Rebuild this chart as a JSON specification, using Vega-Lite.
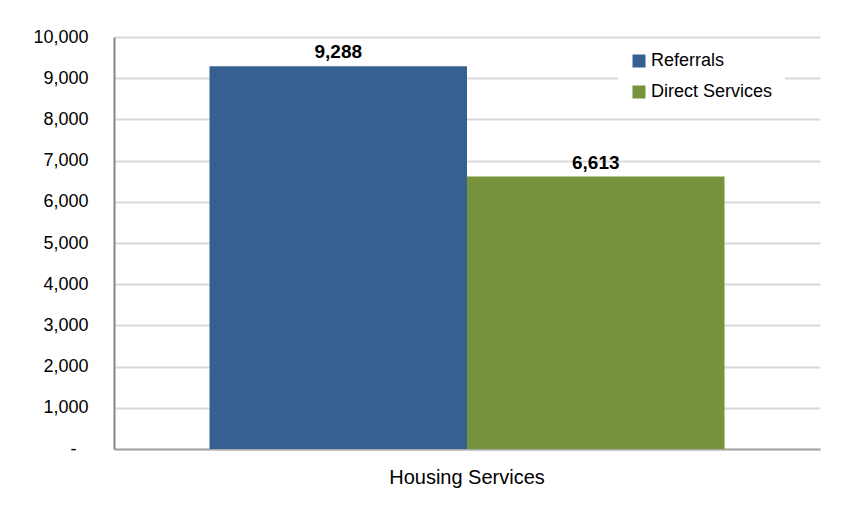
{
  "$schema": "https://vega.github.io/schema/vega-lite/v6.json",
  "width": 706,
  "height": 412,
  "autosize": "none",
  "padding": {"left": 114, "top": 37, "right": 29, "bottom": 57},
  "background": "white",
  "config": {"view": {"stroke": null}, "font": "Liberation Sans"},
  "data": {
    "values": [
      {"category": "Housing Services", "series": "Referrals", "value": 9288},
      {"category": "Housing Services", "series": "Direct Services", "value": 6613}
    ]
  },
  "encoding": {
    "x": {
      "field": "category",
      "type": "nominal",
      "scale": {"paddingInner": 0, "paddingOuter": 0.1854},
      "axis": {
        "title": null,
        "labelAngle": 0,
        "labelFontSize": 20,
        "labelColor": "#000000",
        "labelPadding": 18,
        "ticks": false,
        "domainColor": "#a6a6a6",
        "domainWidth": 2,
        "grid": false
      }
    },
    "xOffset": {
      "field": "series",
      "sort": ["Referrals", "Direct Services"],
      "scale": {"paddingInner": 0, "paddingOuter": 0}
    },
    "y": {
      "field": "value",
      "type": "quantitative",
      "scale": {"domain": [0, 10000]},
      "axis": {
        "title": null,
        "values": [0, 1000, 2000, 3000, 4000, 5000, 6000, 7000, 8000, 9000, 10000],
        "labelExpr": "datum.value == 0 ? '-' : format(datum.value, ',')",
        "labelFontSize": 18,
        "labelColor": "#000000",
        "labelPadding": {"condition": {"test": "datum.value == 0", "value": 38}, "value": 26},
        "ticks": false,
        "domainColor": "#868686",
        "domainWidth": 2,
        "grid": true,
        "gridColor": "#d9d9d9",
        "gridWidth": 2
      }
    }
  },
  "layer": [
    {
      "mark": {"type": "bar"},
      "encoding": {
        "color": {
          "field": "series",
          "type": "nominal",
          "scale": {"domain": ["Referrals", "Direct Services"], "range": ["#376092", "#77933c"]},
          "legend": {
            "title": null,
            "orient": "none",
            "legendX": 504,
            "legendY": 3,
            "symbolType": "square",
            "symbolSize": 169,
            "symbolStrokeWidth": 0,
            "labelFontSize": 18,
            "labelColor": "#000000",
            "labelOffset": 3,
            "rowPadding": 13,
            "fillColor": "white",
            "padding": 12
          }
        }
      }
    },
    {
      "mark": {"type": "text", "dy": -8, "baseline": "alphabetic", "fontWeight": "bold", "fontSize": 19, "color": "#000000"},
      "encoding": {"text": {"field": "value", "type": "quantitative", "format": ","}}
    }
  ]
}
